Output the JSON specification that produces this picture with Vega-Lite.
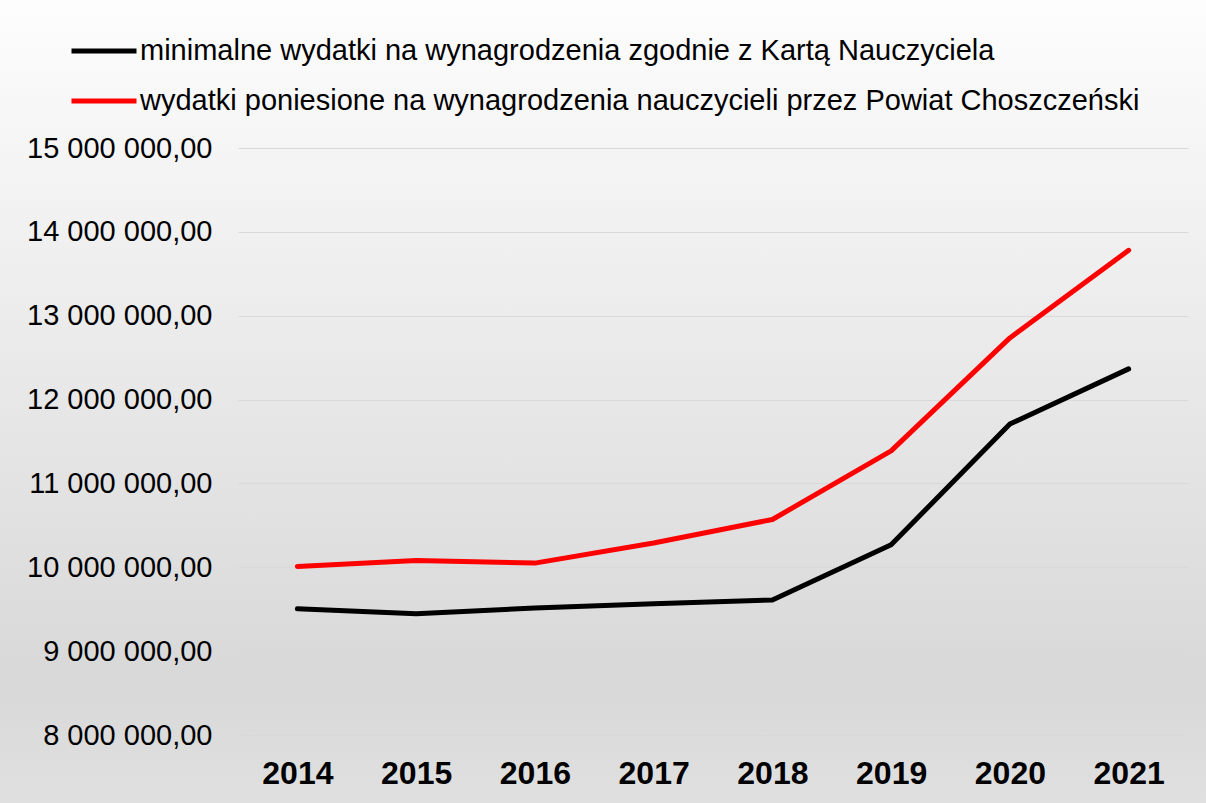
{
  "$schema": "https://vega.github.io/schema/vega-lite/v6.json",
  "width": 1206,
  "height": 803,
  "autosize": {"type": "none"},
  "padding": 0,
  "background": "#ffffff",
  "config": {
    "locale": {"number": {"decimal": ",", "thousands": " ", "grouping": [3], "currency": ["", " zł"]}},
    "view": {
      "stroke": null,
      "fill": {
        "gradient": "linear",
        "x1": 0, "y1": 0, "x2": 0, "y2": 1,
        "stops": [
          {"offset": 0, "color": "#fdfdfd"},
          {"offset": 0.85, "color": "#d8d8d8"},
          {"offset": 1, "color": "#e0e0e0"}
        ]
      }
    },
    "font": "Liberation Sans"
  },
  "data": {
    "values": [
      {"year": "2014", "series": "minimalne wydatki na wynagrodzenia zgodnie z Kartą Nauczyciela", "value": 9505000},
      {"year": "2015", "series": "minimalne wydatki na wynagrodzenia zgodnie z Kartą Nauczyciela", "value": 9446000},
      {"year": "2016", "series": "minimalne wydatki na wynagrodzenia zgodnie z Kartą Nauczyciela", "value": 9515000},
      {"year": "2017", "series": "minimalne wydatki na wynagrodzenia zgodnie z Kartą Nauczyciela", "value": 9565000},
      {"year": "2018", "series": "minimalne wydatki na wynagrodzenia zgodnie z Kartą Nauczyciela", "value": 9610000},
      {"year": "2019", "series": "minimalne wydatki na wynagrodzenia zgodnie z Kartą Nauczyciela", "value": 10268000},
      {"year": "2020", "series": "minimalne wydatki na wynagrodzenia zgodnie z Kartą Nauczyciela", "value": 11709000},
      {"year": "2021", "series": "minimalne wydatki na wynagrodzenia zgodnie z Kartą Nauczyciela", "value": 12366000},
      {"year": "2014", "series": "wydatki poniesione na wynagrodzenia nauczycieli przez Powiat Choszczeński", "value": 10010000},
      {"year": "2015", "series": "wydatki poniesione na wynagrodzenia nauczycieli przez Powiat Choszczeński", "value": 10080000},
      {"year": "2016", "series": "wydatki poniesione na wynagrodzenia nauczycieli przez Powiat Choszczeński", "value": 10050000},
      {"year": "2017", "series": "wydatki poniesione na wynagrodzenia nauczycieli przez Powiat Choszczeński", "value": 10290000},
      {"year": "2018", "series": "wydatki poniesione na wynagrodzenia nauczycieli przez Powiat Choszczeński", "value": 10570000},
      {"year": "2019", "series": "wydatki poniesione na wynagrodzenia nauczycieli przez Powiat Choszczeński", "value": 11388000},
      {"year": "2020", "series": "wydatki poniesione na wynagrodzenia nauczycieli przez Powiat Choszczeński", "value": 12735000},
      {"year": "2021", "series": "wydatki poniesione na wynagrodzenia nauczycieli przez Powiat Choszczeński", "value": 13780000}
    ]
  },
  "mark": {"type": "line", "strokeWidth": 5, "strokeCap": "round", "strokeJoin": "round"},
  "encoding": {
    "x": {
      "field": "year",
      "type": "ordinal",
      "scale": {"type": "point", "range": [238, 1188], "padding": 0.5},
      "axis": {
        "title": null,
        "orient": "bottom",
        "offset": -68,
        "domain": false,
        "ticks": false,
        "tickSize": 0,
        "grid": false,
        "labelAngle": 0,
        "labelFont": "Liberation Sans",
        "labelFontSize": 32,
        "labelFontWeight": "bold",
        "labelColor": "#000000",
        "labelPadding": 23
      }
    },
    "y": {
      "field": "value",
      "type": "quantitative",
      "scale": {"domain": [8000000, 15000000], "range": [735, 148], "nice": false, "zero": false},
      "axis": {
        "title": null,
        "orient": "left",
        "offset": -238,
        "values": [8000000, 9000000, 10000000, 11000000, 12000000, 13000000, 14000000, 15000000],
        "format": ",.2f",
        "domain": false,
        "ticks": false,
        "tickSize": 0,
        "grid": true,
        "gridColor": "#d9d9d9",
        "gridWidth": 1,
        "labelFont": "Liberation Sans",
        "labelFontSize": 29,
        "labelColor": "#000000",
        "labelPadding": 26,
        "labelLimit": 400
      }
    },
    "color": {
      "field": "series",
      "type": "nominal",
      "scale": {
        "domain": ["minimalne wydatki na wynagrodzenia zgodnie z Kartą Nauczyciela", "wydatki poniesione na wynagrodzenia nauczycieli przez Powiat Choszczeński"],
        "range": ["#000000", "#ff0000"]
      },
      "legend": {
        "title": null,
        "orient": "none",
        "legendX": 69,
        "legendY": 16,
        "padding": 0,
        "symbolType": "stroke",
        "symbolSize": 4225,
        "symbolStrokeWidth": 5,
        "labelFont": "Liberation Sans",
        "labelFontSize": 29,
        "labelColor": "#000000",
        "labelOffset": 1,
        "labelLimit": 1200,
        "rowPadding": -6
      }
    }
  }
}
